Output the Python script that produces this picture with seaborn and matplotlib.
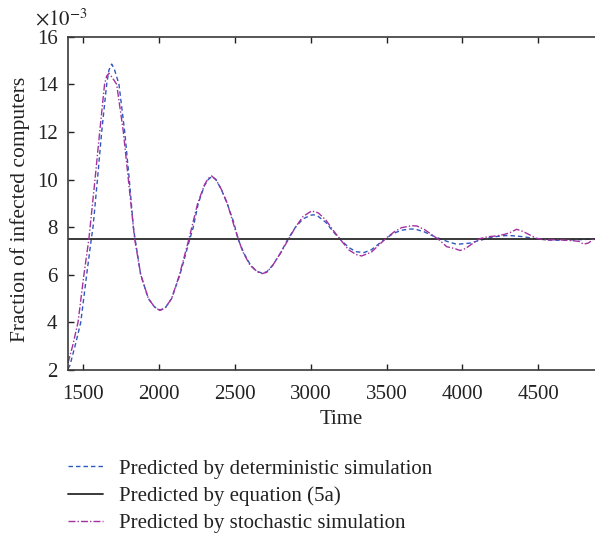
import numpy as np
import pandas as pd
import matplotlib
matplotlib.use("Agg")
import matplotlib.pyplot as plt
import seaborn as sns

# ---- data (values in units of 1e-3) ----
t_det = [1400, 1413, 1450, 1484, 1523, 1554, 1565, 1594, 1622, 1655, 1670, 1688, 1705,
         1736, 1774, 1804, 1831, 1842, 1879, 1930, 1970, 2006, 2040, 2083, 2138, 2204,
         2226, 2259, 2300, 2325, 2347, 2375, 2410, 2449, 2493, 2520, 2560, 2600, 2640,
         2677, 2710, 2750, 2800, 2850, 2900, 2950, 3000, 3020, 3050, 3100, 3150, 3190,
         3250, 3300, 3350, 3400, 3450, 3500, 3550, 3600, 3650, 3688, 3750, 3800, 3850,
         3900, 3963, 4000, 4050, 4100, 4150, 4200, 4250, 4300, 4350, 4400, 4450, 4500,
         4550, 4600, 4650, 4700, 4750, 4800, 4850, 4900]
v_det = [2.05, 2.2, 3.1, 4.0, 6.0, 7.52, 8.0, 10.0, 12.0, 14.0, 14.6, 14.85, 14.65,
         14.0, 12.0, 10.0, 8.0, 7.52, 6.0, 5.0, 4.65, 4.52, 4.6, 5.0, 6.0, 7.52,
         8.0, 9.0, 9.75, 10.0, 10.12, 10.0, 9.6, 9.0, 8.2, 7.52, 6.9, 6.45, 6.15,
         6.08, 6.12, 6.4, 6.9, 7.5, 8.0, 8.35, 8.5, 8.52, 8.45, 8.2, 7.8, 7.52,
         7.15, 6.97, 6.93, 7.05, 7.3, 7.55, 7.75, 7.87, 7.92, 7.92, 7.8, 7.65, 7.52,
         7.4, 7.28, 7.3, 7.33, 7.42, 7.5, 7.58, 7.63, 7.65, 7.63, 7.6, 7.55, 7.5,
         7.47, 7.45, 7.45, 7.46, 7.47, 7.48, 7.5, 7.52]

t_sto = [1400, 1430, 1466, 1505, 1538, 1578, 1609, 1641, 1655, 1670, 1690, 1721, 1765,
         1798, 1839, 1880, 1930, 1970, 2006, 2040, 2083, 2135, 2198, 2255, 2300, 2325,
         2347, 2375, 2410, 2450, 2500, 2550, 2600, 2650, 2680, 2710, 2750, 2800, 2850,
         2900, 2950, 3006, 3050, 3100, 3150, 3200, 3250, 3300, 3336, 3400, 3450, 3500,
         3550, 3600, 3666, 3700, 3750, 3800, 3850, 3897, 3950, 3985, 4020, 4060, 4117,
         4170, 4226, 4280, 4314, 4358, 4400, 4424, 4490, 4556, 4610, 4666, 4732, 4770,
         4798, 4830, 4864, 4900]
v_sto = [2.3, 3.0, 4.0, 6.0, 7.52, 10.0, 12.0, 14.0, 14.35, 14.46, 14.3, 14.0, 12.0,
         10.0, 7.52, 6.0, 5.0, 4.65, 4.5, 4.6, 5.0, 6.0, 7.52, 9.0, 9.78, 10.05,
         10.15, 10.0, 9.6, 9.0, 7.95, 7.0, 6.4, 6.12, 6.05, 6.1, 6.4, 6.9, 7.45,
         8.0, 8.45, 8.68, 8.6, 8.3, 7.85, 7.45, 7.05, 6.85, 6.79, 6.95, 7.25, 7.55,
         7.8, 7.98, 8.06, 8.05, 7.9, 7.68, 7.45, 7.18, 7.1, 7.02, 7.1, 7.28, 7.52,
         7.6, 7.63, 7.7, 7.77, 7.91, 7.82, 7.74, 7.53, 7.46, 7.47, 7.46, 7.43, 7.4,
         7.29, 7.33, 7.49, 7.52]

t_eq = [1400, 5000]
v_eq = [7.52, 7.52]

x_ticks = [1500, 2000, 2500, 3000, 3500, 4000, 4500]
y_ticks = [2, 4, 6, 8, 10, 12, 14, 16]

labels = ["Predicted by deterministic simulation",
          "Predicted by equation (5a)",
          "Predicted by stochastic simulation"]

sns.set_theme(style="ticks")
plt.rcParams['font.family'] = ['Liberation Serif', 'DejaVu Serif']
plt.rcParams['mathtext.fontset'] = 'stix'
FS = 15
TXT = "#222222"

W, H = 595, 537
fig = plt.figure(figsize=(W / 100, H / 100), dpi=100)
ax = fig.add_axes([68 / W, 1 - 370 / H, 546 / W, (370 - 36.7) / H])

df_det = pd.DataFrame({"t": t_det, "v": v_det})
df_sto = pd.DataFrame({"t": t_sto, "v": v_sto})
df_eq = pd.DataFrame({"t": t_eq, "v": v_eq})

sns.lineplot(data=df_det, x="t", y="v", ax=ax, color="#2f58bd", lw=1.0,
             label=labels[0], estimator=None, sort=False)
sns.lineplot(data=df_eq, x="t", y="v", ax=ax, color="#2a2a2a", lw=1.3,
             label=labels[1], estimator=None, sort=False)
sns.lineplot(data=df_sto, x="t", y="v", ax=ax, color="#a3319f", lw=1.0,
             label=labels[2], estimator=None, sort=False)
lines = ax.get_lines()
lines[0].set_dashes((3.2, 2.2))
lines[2].set_dashes((5, 1.5, 1, 1.5))

ax.set_xlim(1400, 5000)
ax.set_ylim(2, 16)
ax.set_xticks(x_ticks)
ax.set_yticks(y_ticks)
ax.tick_params(direction="in", length=4, width=1, top=True, right=True,
               labelsize=FS, colors=TXT)
ax.tick_params(axis="x", pad=11)
ax.tick_params(axis="y", pad=7.5)
for s in ax.spines.values():
    s.set_color("#3a3a3a")
    s.set_linewidth(1.2)
ax.set_xlabel("Time", fontsize=FS, color=TXT, labelpad=4)
ax.set_ylabel("Fraction of infected computers", fontsize=15.5, color=TXT)
ax.yaxis.set_label_coords(-0.0705, 0.483)

fig.text(88 / W, 1 - 25 / H, r"$\times10^{-3}$", fontsize=FS, ha="right",
         va="baseline", color=TXT)

h, l = ax.get_legend_handles_labels()
ax.get_legend().remove()
fig.legend(h, l, loc="upper left", bbox_to_anchor=(68 / W, 1 - 459 / H),
           frameon=False, borderpad=0, borderaxespad=0, handlelength=1.7,
           handletextpad=0.77, labelspacing=0.37, fontsize=FS,
           labelcolor=TXT)

fig.savefig("out.png", dpi=100)
